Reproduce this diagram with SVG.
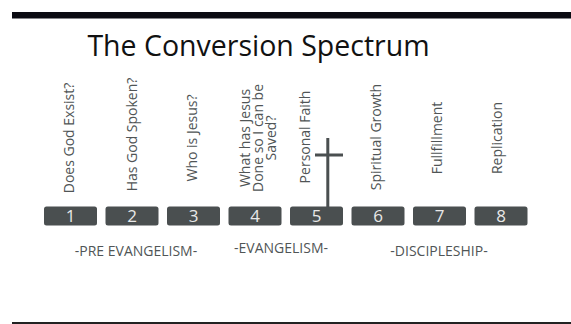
<svg xmlns="http://www.w3.org/2000/svg" width="571" height="324" viewBox="0 0 571 324">
<style>
.box{fill:#4a4f50}
.num{font-family:"Open Sans",sans-serif;font-size:17px;fill:#e8e8e8;text-anchor:middle}
.q{font-family:"Open Sans",sans-serif;font-size:14px;fill:#505556;text-anchor:middle}
.ph{font-family:"Open Sans",sans-serif;font-size:14px;fill:#505556;text-anchor:middle}
.title{font-family:"Open Sans",sans-serif;font-size:28.5px;fill:#111}
</style>
<rect x="0" y="0" width="571" height="324" fill="#fff"/>
<rect x="12" y="12" width="559" height="6.5" fill="#0b0b12"/>
<rect x="12" y="322" width="559" height="2" fill="#222"/>
<text class="title" x="258.5" y="56" text-anchor="middle">The Conversion Spectrum</text>

<g id="cross">
<rect x="326.3" y="138" width="3" height="69" class="box"/>
<rect x="315" y="153.5" width="28" height="3" class="box"/>
</g>

<g id="step1"><rect class="box" x="44" y="206.5" width="53" height="19" rx="2.5"/><text class="num" x="70.5" y="222">1</text>
<text class="q" transform="translate(74,138) rotate(-90)">Does God Exsist?</text></g>
<g id="step2"><rect class="box" x="105.5" y="206.5" width="53" height="19" rx="2.5"/><text class="num" x="132" y="222">2</text>
<text class="q" transform="translate(137,134.5) rotate(-90)">Has God Spoken?</text></g>
<g id="step3"><rect class="box" x="167" y="206.5" width="53" height="19" rx="2.5"/><text class="num" x="193.5" y="222">3</text>
<text class="q" transform="translate(196.5,138) rotate(-90)">Who is Jesus?</text></g>
<g id="step4"><rect class="box" x="228.5" y="206.5" width="53" height="19" rx="2.5"/><text class="num" x="255" y="222">4</text>
<text class="q" transform="translate(250,138) rotate(-90)"><tspan x="0" y="0">What has Jesus</tspan><tspan x="0" y="13">Done so I can be</tspan><tspan x="0" y="26">Saved?</tspan></text></g>
<g id="step5"><rect class="box" x="290" y="206.5" width="53" height="19" rx="2.5"/><text class="num" x="316.5" y="222">5</text>
<text class="q" transform="translate(309.5,137) rotate(-90)">Personal Faith</text></g>
<g id="step6"><rect class="box" x="351.5" y="206.5" width="53" height="19" rx="2.5"/><text class="num" x="378" y="222">6</text>
<text class="q" transform="translate(381,137) rotate(-90)">Spiritual Growth</text></g>
<g id="step7"><rect class="box" x="413" y="206.5" width="53" height="19" rx="2.5"/><text class="num" x="439.5" y="222">7</text>
<text class="q" transform="translate(441.5,138) rotate(-90)">Fullfillment</text></g>
<g id="step8"><rect class="box" x="474.5" y="206.5" width="53" height="19" rx="2.5"/><text class="num" x="501" y="222">8</text>
<text class="q" transform="translate(502,138) rotate(-90)">Replication</text></g>

<g id="phases">
<text class="ph" x="136" y="255.5">-PRE EVANGELISM-</text>
<text class="ph" x="281" y="253">-EVANGELISM-</text>
<text class="ph" x="439" y="255.5">-DISCIPLESHIP-</text>
</g>
</svg>
